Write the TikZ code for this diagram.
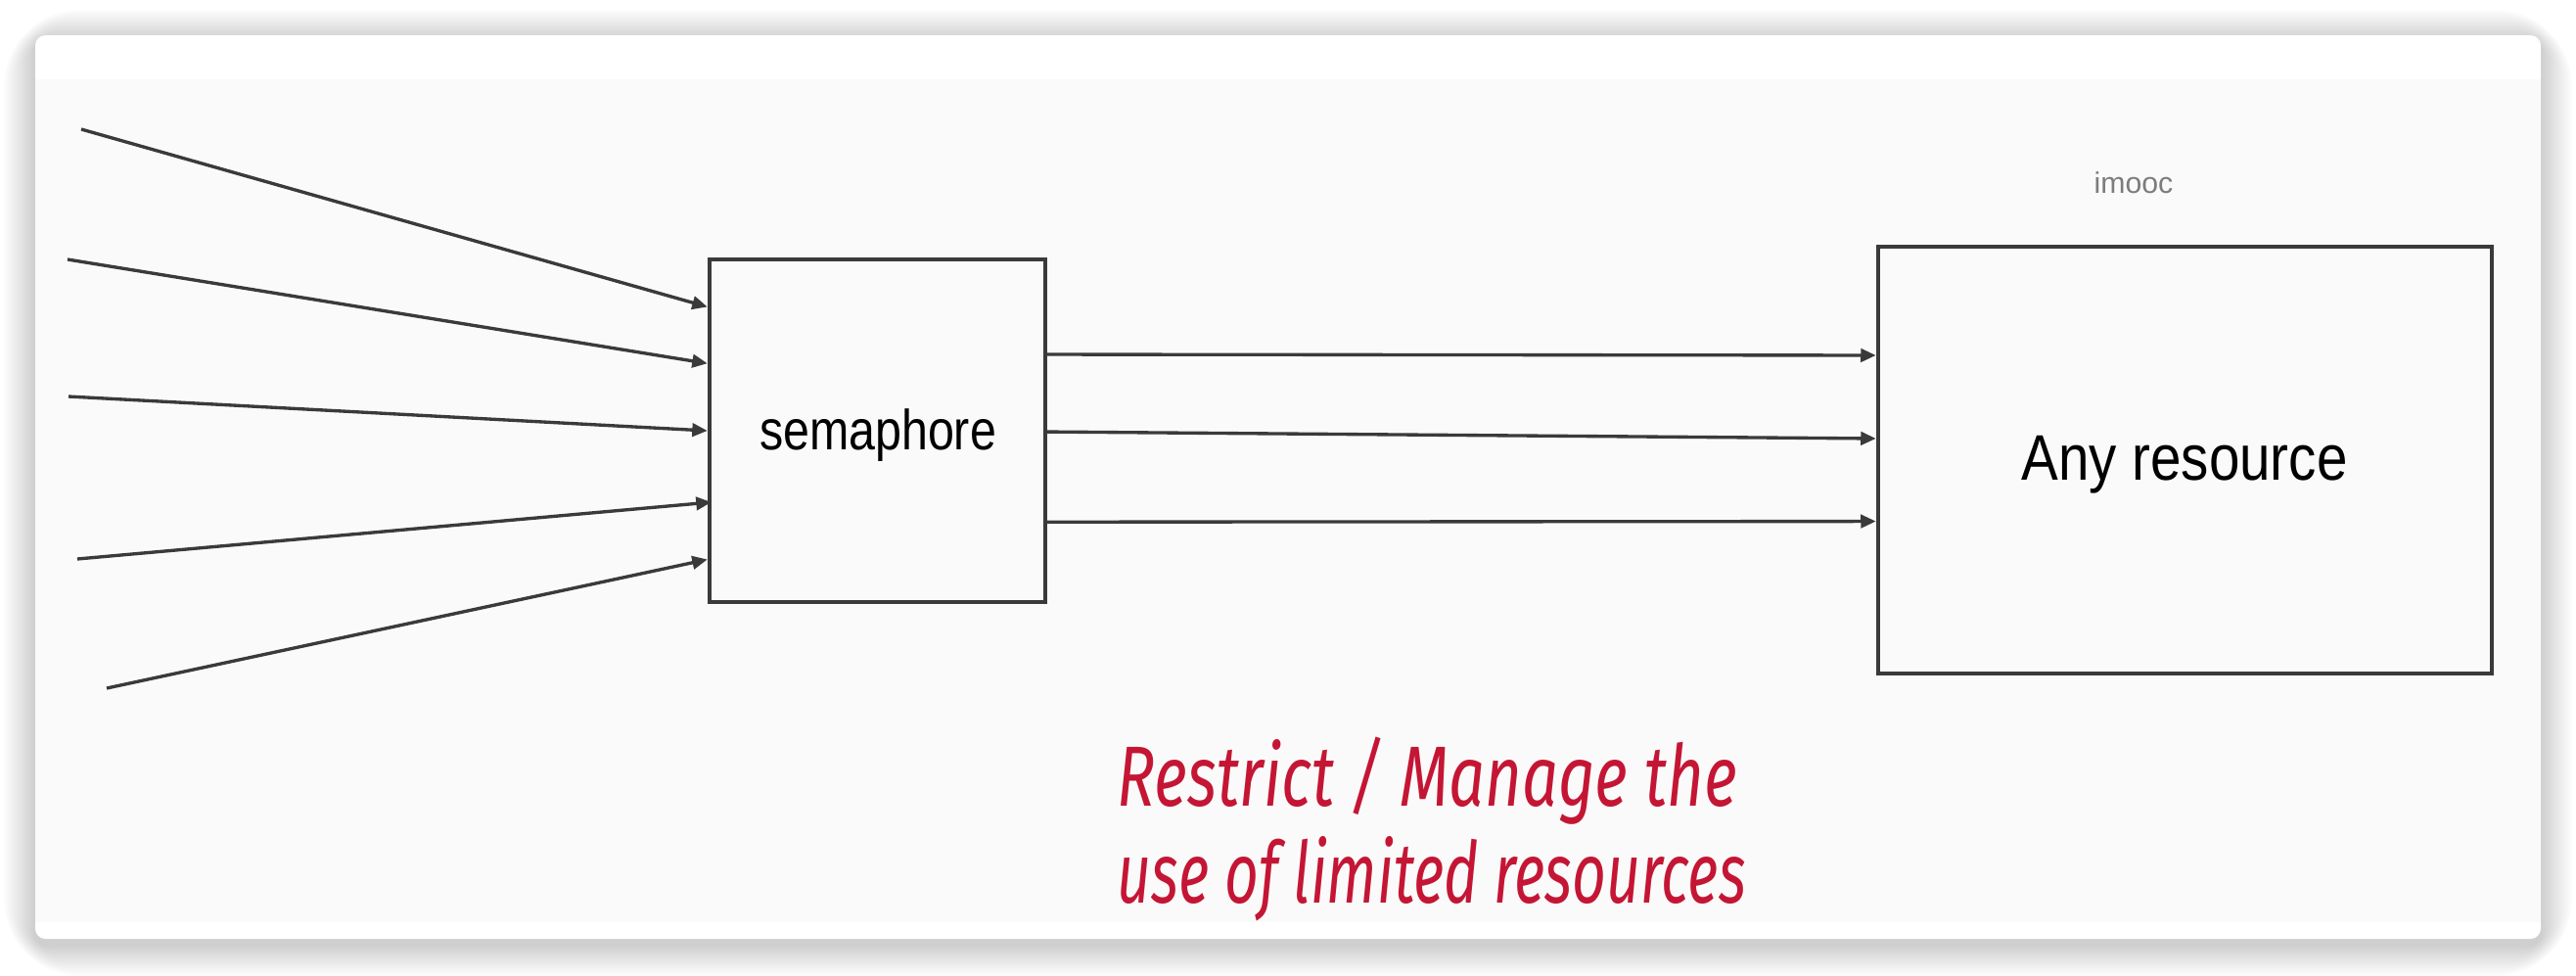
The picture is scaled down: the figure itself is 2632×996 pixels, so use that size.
\documentclass[tikz,border=0pt]{standalone}
\usepackage{fontspec}
\setmainfont{Liberation Sans}
\newfontfamily\labelfont{Liberation Sans}
\newfontfamily\handfont{Fira Sans}
\usetikzlibrary{arrows.meta,calc}

\definecolor{inkgray}{HTML}{3A3A3A}
\definecolor{paper}{HTML}{FAFAFA}
\definecolor{notered}{RGB}{196,22,52}
\definecolor{markgray}{HTML}{7C7C7C}

\tikzset{
  box/.style={draw=inkgray, line width=1.2pt, fill=paper, rectangle, inner sep=0pt},
  link/.style={draw=inkgray, line width=0.95pt,
    -{Triangle[length=4.4pt,width=3.8pt]}},
  note/.style={text=notered, inner sep=0pt, anchor=base west},
}

\begin{document}
\begin{tikzpicture}[x=0.01cm, y=-0.01cm]
  % page
  \fill[white] (0,0) rectangle (2632,996);
  \useasboundingbox (0,0) rectangle (2632,996);
  % soft drop shadow: stacked translucent rounded rectangles
  \foreach \k in {1,...,16}{
    \pgfmathsetmacro{\grow}{2*(17-\k)}
    \fill[black, opacity=0.012, rounded corners={(3+0.6*\grow)*1pt}]
      ($(36,42)+(-\grow,-\grow)$) rectangle ($(2596,965)+(\grow,\grow)$);
  }
  % card
  \fill[white, rounded corners=3pt] (36,36) rectangle (2596,959);
  \fill[paper] (36,81) rectangle (2596,942);

  % main blocks
  \node[box, minimum width=3.43cm, minimum height=3.50cm] (sem) at (896.5,440) {};
  \node[inner sep=0pt] (semlabel) at (897,445)
    {\labelfont\fontsize{16.4pt}{19pt}\selectfont\resizebox{68.8pt}{\height}{semaphore}};

  \node[box, minimum width=6.27cm, minimum height=4.36cm] (res) at (2232.5,470) {};
  \node[inner sep=0pt] (reslabel) at (2232,475)
    {\labelfont\fontsize{18.7pt}{22pt}\selectfont\resizebox{94.7pt}{\height}{Any resource}};

  \node[inner sep=0pt, text=markgray] (mark) at (2180,187)
    {\labelfont\fontsize{8.6pt}{10pt}\selectfont imooc};

  % incoming requests
  \coordinate (s1) at (83,132);
  \coordinate (s2) at (69,265);
  \coordinate (s3) at (70,405);
  \coordinate (s4) at (79,571);
  \coordinate (s5) at (109,703);
  \draw[link] (s1) -- ($(sem.north west)!0.143!(sem.south west)$);
  \draw[link] (s2) -- ($(sem.north west)!0.306!(sem.south west)$);
  \draw[link] (s3) -- ($(sem.north west)!0.50!(sem.south west)$);
  \draw[link] (s4) -- ($(sem.north west)!0.706!(sem.south west)+(4,0)$);
  \draw[link] (s5) -- ($(sem.north west)!0.871!(sem.south west)$);

  % permitted accesses
  \draw[link] ($(sem.north east)!0.28!(sem.south east)$) -- ($(res.north west)!0.257!(res.south west)$);
  \draw[link] ($(sem.north east)!0.503!(sem.south east)$) -- ($(res.north west)!0.45!(res.south west)$);
  \draw[link] ($(sem.north east)!0.763!(sem.south east)$) -- ($(res.north west)!0.642!(res.south west)$);

  % handwritten note
  \node[note] (note1) at (1141,823)
    {\handfont\itshape\fontsize{24.8pt}{28pt}\selectfont\resizebox{180pt}{\height}{Restrict / Manage the}};
  \node[note] (note2) at (1141,922)
    {\handfont\itshape\fontsize{24.8pt}{28pt}\selectfont\resizebox{182.6pt}{\height}{use of limited resources}};
\end{tikzpicture}
\end{document}
